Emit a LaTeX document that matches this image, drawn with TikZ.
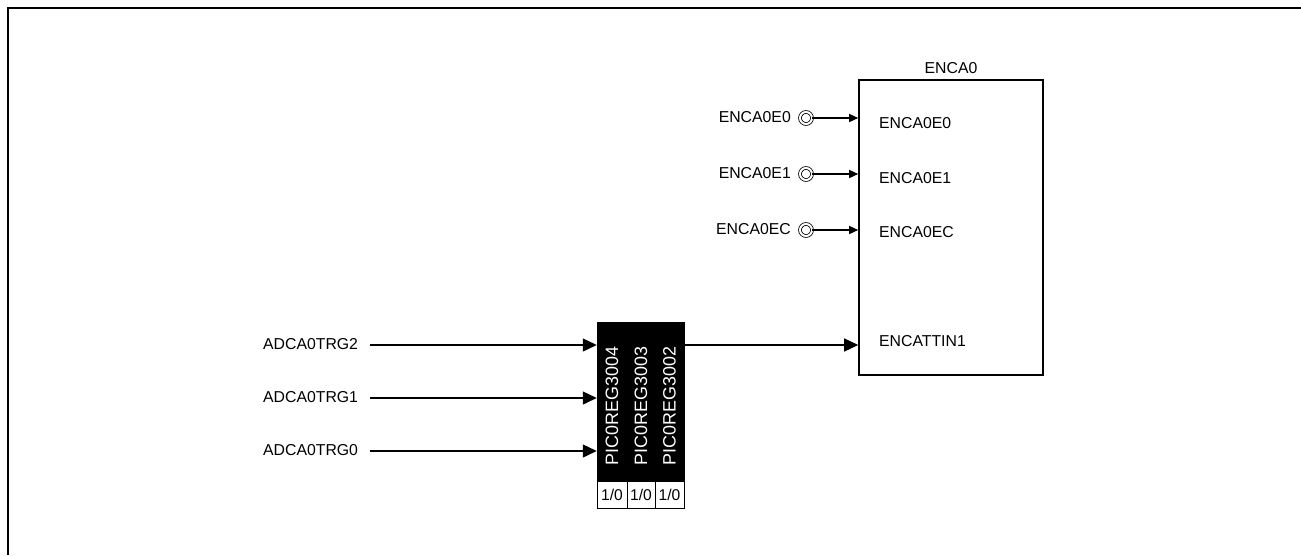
\documentclass[tikz,border=0pt]{standalone}
\usepackage{fontspec}
\setmainfont{Liberation Sans}
\usetikzlibrary{positioning,calc,arrows.meta}
\tikzset{
  lbl/.style={inner sep=0pt, font=\fontsize{15.8}{18}\selectfont},
  srclbl/.style={lbl, anchor=west, inner ysep=0pt, inner xsep=0pt},
  encblock/.style={draw=black, line width=1.6pt, fill=white, inner sep=0pt, minimum width=184pt, minimum height=295pt},
  regblack/.style={draw=black, fill=black, line width=0.5pt, inner sep=0pt, minimum height=159pt},
  regtxt/.style={text=white, rotate=90, inner sep=0pt, font=\fontsize{17.9}{20}\selectfont},
  regbit/.style={draw=black, fill=white, line width=0.9pt, inner sep=0pt, minimum height=27pt, font=\fontsize{15.6}{18}\selectfont},
  pinterm/.style={circle, draw=black, line width=0.8pt, double, double distance=2pt, inner sep=0pt, minimum size=12pt},
  sigbig/.style={-{Triangle[length=14pt,width=13pt]}, line width=1.4pt, draw=black},
  sigsmall/.style={-{Triangle[length=9pt,width=8pt]}, line width=1.4pt, draw=black},
}
\newcommand{\encpin}[4]{%
  \node[lbl, anchor=east] (#1lbl) at (791,#2) {#3};
  \node[pinterm] (#1term) at (806,#2-1) {};
  \node[lbl, anchor=west] (#1in) at (879,#4) {#3};
  \draw[sigsmall] (#1term.east) -- (#1term.east -| encazero.west);}
\newcommand{\regcol}[5]{%
  \node[regblack, minimum width=#3pt] (#1) at (#2,-401.5) {};
  \node[regtxt] (#1txt) at (#2,-406) {#4};
  \node[regbit, minimum width=#3pt] (#1bit) at (#2,-494.5) {#5};}
\newcommand{\trgsig}[3]{%
  \node[srclbl] (#1) at (263,#2) {#3};
  \draw[sigbig] ($(#1.east)+(12,-1)$) -- ($(#1.east -| regfour.west)+(0,-1)$);}

\begin{document}
\begin{tikzpicture}[x=1pt,y=1pt]
  \useasboundingbox (0,0) rectangle (1301,-555);
  \draw[line width=2pt] (8,-555) |- (1301,-8);

  \node[encblock] (encazero) at (951,-227.5) {};
  \node[lbl, above=5pt of encazero] (encazerottl) {ENCA0};

  \encpin{ezero}{-117}{ENCA0E0}{-123}
  \encpin{eone}{-173}{ENCA0E1}{-178}
  \encpin{ec}{-229}{ENCA0EC}{-232}
  \node[lbl, anchor=west] (encattin) at (879,-341) {ENCATTIN1};

  \regcol{regfour}{612}{30}{PIC0REG3004}{1/0}
  \regcol{regthree}{641}{28}{PIC0REG3003}{1/0}
  \regcol{regtwo}{669.5}{29}{PIC0REG3002}{1/0}

  \trgsig{trgtwo}{-344}{ADCA0TRG2}
  \trgsig{trgone}{-397}{ADCA0TRG1}
  \trgsig{trgzero}{-450}{ADCA0TRG0}

  \coordinate (regout) at (684,-345);
  \draw[sigbig] (regout) -- (regout -| encazero.west);
\end{tikzpicture}
\end{document}
